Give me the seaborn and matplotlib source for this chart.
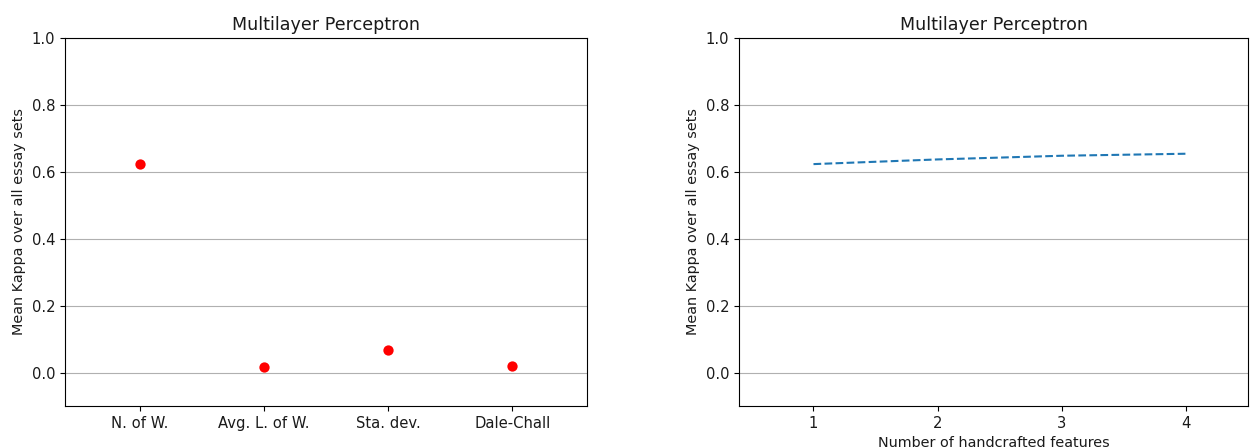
import matplotlib
matplotlib.use("Agg")
import matplotlib.pyplot as plt
import seaborn as sns
import pandas as pd

features = ["N. of W.", "Avg. L. of W.", "Sta. dev.", "Dale-Chall"]
kappa_single = [0.623, 0.016, 0.067, 0.019]

n_features = [1, 2, 3, 4]
kappa_cumulative = [0.623, 0.637, 0.648, 0.654]

title = "Multilayer Perceptron"
ylabel = "Mean Kappa over all essay sets"
xlabel_right = "Number of handcrafted features"

fig = plt.figure(figsize=(12.5, 4.48), dpi=100)
ax1 = fig.add_axes([0.052, 0.0938, 0.4176, 0.8214])
ax2 = fig.add_axes([0.5912, 0.0938, 0.4072, 0.8214])

df1 = pd.DataFrame({"feature": features, "kappa": kappa_single})
sns.scatterplot(data=df1, x="feature", y="kappa", ax=ax1, color="red",
                s=55, linewidth=0, zorder=3)
ax1.set_xlim(-0.6, 3.6)

df2 = pd.DataFrame({"n": n_features, "kappa": kappa_cumulative})
sns.lineplot(data=df2, x="n", y="kappa", ax=ax2, color="#1f77b4",
             linestyle="--", linewidth=1.5)
ax2.set_xlim(0.4, 4.5)
ax2.set_xticks(n_features)

txt = "#1a1a1a"
for ax in (ax1, ax2):
    ax.set_ylim(-0.1, 1.0)
    ax.set_yticks([0.0, 0.2, 0.4, 0.6, 0.8, 1.0])
    ax.yaxis.grid(True, color="#b0b0b0", linewidth=0.8)
    ax.set_axisbelow(True)
    ax.set_title(title, fontsize=12.6, color=txt)
    ax.set_ylabel(ylabel, fontsize=10.4, color=txt)
    ax.tick_params(labelsize=10.6, labelcolor=txt)

ax1.set_xlabel("")
ax2.set_xlabel(xlabel_right, fontsize=10.4, color=txt)

fig.savefig("out.png", dpi=100)
